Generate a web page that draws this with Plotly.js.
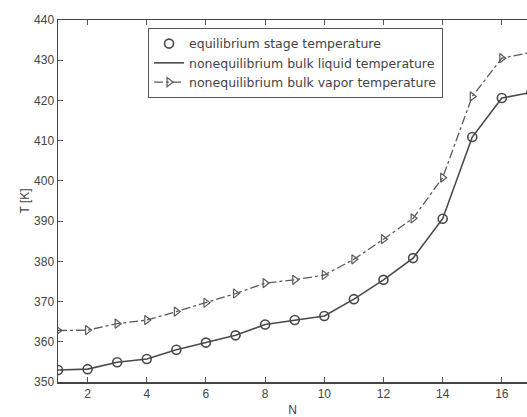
<!DOCTYPE html>
<html>
<head>
<meta charset="utf-8">
<script src="https://cdn.plot.ly/plotly-3.0.1.min.js"></script>
<style>html,body{margin:0;padding:0;background:#fff;}#chart{width:527px;height:417px;}</style>
</head>
<body>
<div id="chart"></div>
<script>
var stages = [1, 2, 3, 4, 5, 6, 7, 8, 9, 10, 11, 12, 13, 14, 15, 16, 17];
var equilibriumT = [353.0, 353.2, 354.9, 355.7, 358.0, 359.8, 361.6, 364.3, 365.4, 366.4, 370.6, 375.4, 380.8, 390.6, 410.9, 420.6, 422.0];
var liquidT = [353.0, 353.2, 354.9, 355.7, 358.0, 359.8, 361.6, 364.3, 365.4, 366.4, 370.6, 375.4, 380.8, 390.6, 410.9, 420.6, 422.0];
var vaporT = [362.8, 362.9, 364.5, 365.4, 367.5, 369.7, 372.0, 374.6, 375.4, 376.6, 380.5, 385.5, 390.7, 400.8, 421.0, 430.5, 432.0];
var xTicks = [2, 4, 6, 8, 10, 12, 14, 16];
var yTicks = [350, 360, 370, 380, 390, 400, 410, 420, 430, 440];
var names = ['equilibrium stage temperature', 'nonequilibrium bulk liquid temperature', 'nonequilibrium bulk vapor temperature'];

var ink = '#4a4a4a';
var traces = [
  {x: stages, y: equilibriumT, name: names[0], mode: 'markers',
   marker: {symbol: 'circle-open', size: 9, color: ink, line: {width: 1.6, color: ink}}},
  {x: stages, y: liquidT, name: names[1], mode: 'lines',
   line: {color: ink, width: 1.6}},
  {x: stages, y: vaporT, name: names[2], mode: 'lines+markers',
   line: {color: '#5a5a5a', width: 1.3, dash: 'dashdot'},
   marker: {symbol: 'triangle-right-open', size: 8, color: '#5a5a5a', line: {width: 1.2, color: '#5a5a5a'}}}
];

var font = {family: 'Liberation Sans, Arial, sans-serif', size: 12, color: '#444'};
var layout = {
  width: 527, height: 417,
  margin: {l: 58, r: 0, t: 20, b: 35},
  paper_bgcolor: '#fff', plot_bgcolor: '#fff',
  font: font,
  showlegend: true,
  legend: {x: 0.192, y: 0.978, xanchor: 'left', yanchor: 'top',
           bgcolor: '#fff', bordercolor: '#555', borderwidth: 1,
           font: {family: 'DejaVu Sans, sans-serif', size: 12.5, color: '#444'},
           tracegroupgap: 0, itemwidth: 30},
  xaxis: {range: [1, 16.85], tickvals: xTicks, ticks: 'inside', ticklen: 5, tickcolor: '#555',
          showline: true, linecolor: '#444', linewidth: 1.5, mirror: 'ticks',
          showgrid: false, zeroline: false,
          title: {text: 'N', font: {size: 12, color: '#444'}, standoff: 14}},
  yaxis: {range: [350, 440], tickvals: yTicks, ticks: 'inside', ticklen: 5, tickcolor: '#555',
          showline: true, linecolor: '#444', linewidth: 1.5, mirror: false,
          showgrid: false, zeroline: false,
          title: {text: 'T [K]', font: {size: 12, color: '#444'}, standoff: 2}}
};
Plotly.newPlot('chart', traces, layout, {displayModeBar: false, staticPlot: true});
</script>
</body>
</html>
